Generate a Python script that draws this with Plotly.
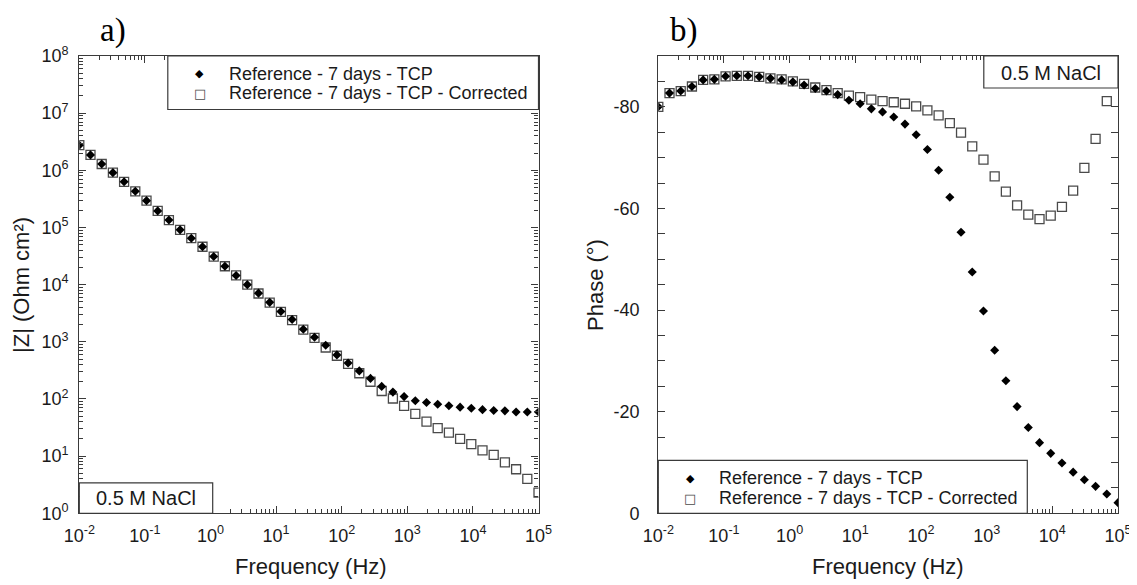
import plotly.graph_objects as go

# ---------------- data ----------------
freq_hz = [0.01, 0.01481, 0.02195, 0.03252, 0.04818, 0.0714, 0.1058, 0.1567, 0.2322, 0.344,
           0.5097, 0.7551, 1.119, 1.658, 2.456, 3.639, 5.391, 7.989, 11.84, 17.54,
           25.98, 38.49, 57.03, 84.5, 125.2, 185.5, 274.8, 407.2, 603.3, 893.9,
           1324, 1962, 2907, 4307, 6381, 9454, 14007, 20754, 30750, 45559, 67502, 100000]

z_mod_raw = [2.75e6, 1.86e6, 1.29e6, 9.1e5, 6.3e5, 4.3e5, 2.95e5, 1.95e5, 1.35e5, 9.1e4,
             6.5e4, 4.6e4, 3.1e4, 2.1e4, 1.45e4, 1.0e4, 7.1e3, 4.9e3, 3.4e3, 2.45e3,
             1660, 1200, 870, 590, 425, 310, 229, 166, 132, 110,
             93, 87, 81, 76, 72, 69, 65, 63, 62, 59, 59, 59]

z_mod_corr = [2.75e6, 1.86e6, 1.29e6, 9.1e5, 6.3e5, 4.3e5, 2.95e5, 1.95e5, 1.35e5, 9.1e4,
              6.5e4, 4.6e4, 3.1e4, 2.1e4, 1.45e4, 1.0e4, 7.0e3, 4.85e3, 3.35e3, 2.4e3,
              1630, 1170, 795, 570, 410, 282, 200, 138, 102, 76,
              55, 40, 31, 25.7, 20, 16.2, 12.6, 10.5, 7.8, 5.9, 4.0, 2.3]

phase_raw = [-80.0, -82.7, -83.1, -84.0, -85.3, -85.4, -86.0, -86.1, -86.1, -85.9,
             -85.6, -85.3, -84.9, -84.3, -83.6, -83.1, -82.4, -81.3, -80.6, -79.6,
             -79.0, -78.0, -76.6, -74.5, -71.6, -67.5, -62.2, -55.3, -47.5, -39.8,
             -32.1, -26.1, -21.0, -16.9, -13.9, -11.8, -9.9, -8.1, -6.6, -5.3, -3.8, -2.1]

phase_corr = [-80.0, -82.7, -83.1, -84.0, -85.3, -85.4, -86.0, -86.1, -86.1, -85.9,
              -85.6, -85.4, -85.0, -84.5, -83.8, -83.3, -82.7, -82.2, -81.9, -81.4,
              -81.1, -80.9, -80.6, -80.1, -79.3, -78.3, -76.8, -74.9, -72.2, -69.6,
              -66.3, -63.3, -60.6, -58.8, -57.9, -58.6, -60.3, -63.5, -68.0, -73.7, -81.1, None]

name_raw = "Reference - 7 days - TCP"
name_corr = "Reference - 7 days - TCP - Corrected"
electrolyte = "0.5 M NaCl"

x_tick_vals = [0.01, 0.1, 1, 10, 100, 1000, 10000, 100000]
x_tick_text = ["10<sup>-2</sup>", "10<sup>-1</sup>", "10<sup>0</sup>", "10<sup>1</sup>",
               "10<sup>2</sup>", "10<sup>3</sup>", "10<sup>4</sup>", "10<sup>5</sup>"]
y1_tick_vals = [1, 10, 100, 1e3, 1e4, 1e5, 1e6, 1e7, 1e8]
y1_tick_text = ["10<sup>0</sup>", "10<sup>1</sup>", "10<sup>2</sup>", "10<sup>3</sup>",
                "10<sup>4</sup>", "10<sup>5</sup>", "10<sup>6</sup>", "10<sup>7</sup>",
                "10<sup>8</sup>"]
y2_tick_vals = [0, -20, -40, -60, -80]
y2_tick_text = ["0", "-20", "-40", "-60", "-80"]

# ---------------- geometry (page pixels; the page body has an 8px margin) ----------------
OFF = 8
FW, FH = 1129, 577
L1, R1 = 79.3, 538.5
L2, R2 = 658.3, 1118.0
TOP, BOT = 56.0, 513.3


def px(x):
    return (x - OFF) / FW


def py(y):
    return (FH - (y - OFF)) / FH


FONT = "Liberation Sans, Arial, sans-serif"
TXT = "#1a1a1a"
AX = "#3a3a3a"
SQ = "#4a4a4a"

fig = go.Figure()

sq_marker = dict(symbol="square-open", size=9, color=SQ, line=dict(width=1.3, color=SQ))
di_marker = dict(symbol="diamond", size=7, color="black", line=dict(width=0))

fig.add_trace(go.Scatter(x=freq_hz, y=z_mod_corr, mode="markers", name=name_corr,
                         marker=sq_marker, xaxis="x", yaxis="y"))
fig.add_trace(go.Scatter(x=freq_hz, y=z_mod_raw, mode="markers", name=name_raw,
                         marker=di_marker, xaxis="x", yaxis="y"))
fig.add_trace(go.Scatter(x=freq_hz, y=phase_corr, mode="markers", name=name_corr,
                         marker=sq_marker, xaxis="x2", yaxis="y2"))
fig.add_trace(go.Scatter(x=freq_hz, y=phase_raw, mode="markers", name=name_raw,
                         marker=di_marker, xaxis="x2", yaxis="y2"))

common_axis = dict(showline=True, linecolor=AX, linewidth=1.2, mirror="allticks",
                   ticks="inside", ticklen=7, tickcolor=AX, tickwidth=1,
                   showgrid=False, zeroline=False, automargin=False,
                   tickfont=dict(family=FONT, size=18, color=TXT))

log_minor = dict(ticks="inside", ticklen=4, tickcolor=AX, tickwidth=1, dtick="D1", showgrid=False)

fig.update_layout(
    width=FW, height=FH,
    margin=dict(l=0, r=0, t=0, b=0),
    plot_bgcolor="white", paper_bgcolor="white",
    font=dict(family=FONT, size=18, color=TXT),
    showlegend=False,
    xaxis=dict(type="log", range=[-2, 5], domain=[px(L1), px(R1)], anchor="y",
               tickmode="array", tickvals=x_tick_vals, ticktext=x_tick_text,
               ticklabelstandoff=6, minor=log_minor, **common_axis),
    yaxis=dict(type="log", range=[0, 8], domain=[py(BOT), py(TOP)], anchor="x",
               tickmode="array", tickvals=y1_tick_vals, ticktext=y1_tick_text,
               ticklabelstandoff=6, minor=log_minor, **common_axis),
    xaxis2=dict(type="log", range=[-2, 5], domain=[px(L2), px(R2)], anchor="y2",
                tickmode="array", tickvals=x_tick_vals, ticktext=x_tick_text,
                ticklabelstandoff=6, minor=log_minor, **common_axis),
    yaxis2=dict(range=[0, -90], domain=[py(BOT), py(TOP)], anchor="x2",
                tickmode="array", tickvals=y2_tick_vals, ticktext=y2_tick_text,
                ticklabelstandoff=14,
                minor=dict(ticks="inside", ticklen=7, tickcolor=AX, dtick=5, showgrid=False),
                **common_axis),
)

# boxes (legend frames and electrolyte labels)
box_line = dict(color=AX, width=1.2)
boxes = [
    (L1 + 88.5, TOP, R1, TOP + 53.5),      # legend frame a)
    (L1, BOT - 30.5, L1 + 133.4, BOT),     # electrolyte a)
    (L2, BOT - 53, L2 + 369, BOT),         # legend frame b)
    (L2 + 325.5, TOP, R2, TOP + 32),       # electrolyte b)
]
for x0, y0, x1, y1 in boxes:
    fig.add_shape(type="rect", xref="paper", yref="paper",
                  x0=px(x0), x1=px(x1), y0=py(y1), y1=py(y0),
                  line=box_line, fillcolor="white", layer="above")

ann = dict(xref="paper", yref="paper", showarrow=False, xanchor="center", yanchor="middle",
           font=dict(family=FONT, size=18, color=TXT))
big = dict(family=FONT, size=20, color=TXT)
fig.add_annotation(text=electrolyte, x=px(L1 + 67), y=py(BOT - 15), **{**ann, "font": big})
fig.add_annotation(text=electrolyte, x=px(L2 + 393), y=py(TOP + 17), **{**ann, "font": big})

# legends (symbol glyph + label)
legend_rows = [
    (L1 + 88.5, TOP + 17.6, TOP + 37.4),
    (L2, BOT - 35, BOT - 15),
]
for bx, r1, r2 in legend_rows:
    fig.add_annotation(text="◆", x=px(bx + 32), y=py(r1),
                       **{**ann, "font": dict(family="DejaVu Sans", size=11, color="black")})
    fig.add_annotation(text="□", x=px(bx + 32), y=py(r2),
                       **{**ann, "font": dict(family="DejaVu Sans", size=13, color=SQ)})
    fig.add_annotation(text=name_raw, x=px(bx + 59), y=py(r1),
                       **{**ann, "xanchor": "left"})
    fig.add_annotation(text=name_corr, x=px(bx + 59), y=py(r2),
                       **{**ann, "xanchor": "left"})

# axis titles
title_font = dict(family=FONT, size=22, color=TXT)
fig.add_annotation(text="Frequency (Hz)", x=px(311), y=py(566), **{**ann, "font": title_font})
fig.add_annotation(text="Frequency (Hz)", x=px(888), y=py(566), **{**ann, "font": title_font})
fig.add_annotation(text="|Z| (Ohm cm²)", x=px(22), y=py(285), textangle=-90,
                   **{**ann, "font": title_font})
fig.add_annotation(text="Phase (°)", x=px(596), y=py(285), textangle=-90,
                   **{**ann, "font": title_font})

# panel labels
serif = dict(family="Liberation Serif, Times New Roman, serif", size=33, color="black")
fig.add_annotation(text="a)", x=px(113), y=py(30), **{**ann, "font": serif})
fig.add_annotation(text="b)", x=px(684), y=py(30), **{**ann, "font": serif})

fig.write_html("out.html")
